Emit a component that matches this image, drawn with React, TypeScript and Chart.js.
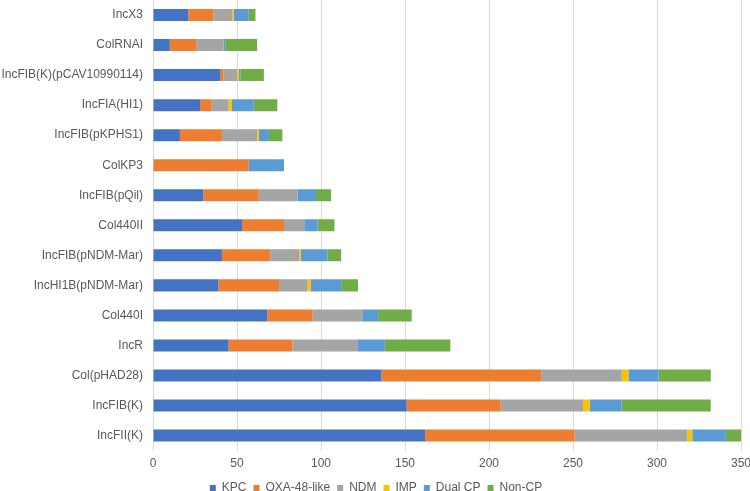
import React, { useEffect, useRef } from "react";
import { Chart, registerables } from "chart.js";

Chart.register(...registerables);

const categories = [
  "IncX3",
  "ColRNAI",
  "IncFIB(K)(pCAV10990114)",
  "IncFIA(HI1)",
  "IncFIB(pKPHS1)",
  "ColKP3",
  "IncFIB(pQil)",
  "Col440II",
  "IncFIB(pNDM-Mar)",
  "IncHI1B(pNDM-Mar)",
  "Col440I",
  "IncR",
  "Col(pHAD28)",
  "IncFIB(K)",
  "IncFII(K)",
];

const kpc = [21, 10, 40, 28, 16, 0, 30, 53, 41, 39, 68, 45, 136, 151, 162];
const oxa48 = [15, 16, 2, 7, 25, 57, 33, 25, 29, 36, 27, 38, 95, 56, 89];
const ndm = [11, 16, 8, 10, 21, 0, 23, 12, 17, 17, 30, 39, 48, 49, 67];
const imp = [1, 0, 1, 2, 1, 0, 0, 0, 1, 2, 0, 0, 4, 4, 3];
const dualCP = [9, 1, 1, 13, 6, 21, 11, 8, 16, 18, 9, 16, 18, 19, 20];
const nonCP = [4, 19, 14, 14, 8, 0, 9, 10, 8, 10, 20, 39, 31, 53, 9];

const seriesNames = ["KPC", "OXA-48-like", "NDM", "IMP", "Dual CP", "Non-CP"];
const seriesColors = ["#4472C4", "#ED7D31", "#A5A5A5", "#FFC000", "#5B9BD5", "#70AD47"];

const xTicksMax = 350;
const xTickStep = 50;

export default function App() {
  const canvasRef = useRef<HTMLCanvasElement | null>(null);

  useEffect(() => {
    document.body.style.margin = "0";
    const ctx = canvasRef.current;
    if (!ctx) return;
    const seriesData = [kpc, oxa48, ndm, imp, dualCP, nonCP];
    const font = { family: "'Liberation Sans', Arial, sans-serif", size: 12 };
    const chart = new Chart(ctx, {
      type: "bar",
      data: {
        labels: categories,
        datasets: seriesNames.map((name, i) => ({
          label: name,
          data: seriesData[i],
          backgroundColor: seriesColors[i],
          borderWidth: 0,
          categoryPercentage: 1,
          barPercentage: 0.4,
        })),
      },
      options: {
        indexAxis: "y",
        animation: false,
        responsive: true,
        maintainAspectRatio: false,
        layout: { padding: 0 },
        plugins: {
          tooltip: { enabled: false },
          legend: {
            position: "bottom",
            labels: {
              boxWidth: 6,
              boxHeight: 6,
              padding: 7,
              color: "#595959",
              font,
            },
          },
        },
        scales: {
          x: {
            stacked: true,
            min: 0,
            max: xTicksMax,
            ticks: { stepSize: xTickStep, color: "#595959", font, padding: 6 },
            grid: { color: "#D9D9D9", drawTicks: false, lineWidth: 1 },
            border: { display: false },
            afterFit: (scale: any) => {
              scale.height -= 2;
              scale.paddingLeft = 0;
              scale.paddingRight = 11;
            },
          },
          y: {
            stacked: true,
            ticks: { color: "#595959", font, padding: 10, autoSkip: false },
            grid: { display: false, drawTicks: false },
            border: { display: false },
            afterFit: (scale: any) => {
              scale.width = 153;
              scale.paddingTop = 0;
              scale.paddingBottom = 0;
            },
          },
        },
      },
    });
    return () => chart.destroy();
  }, []);

  return (
    <div style={{ position: "fixed", left: 0, top: 0, width: 750, height: 491, overflow: "hidden", background: "#fff" }}>
      <div style={{ position: "absolute", left: 0, top: 0, width: 752, height: 504 }}>
        <canvas ref={canvasRef} />
      </div>
    </div>
  );
}
